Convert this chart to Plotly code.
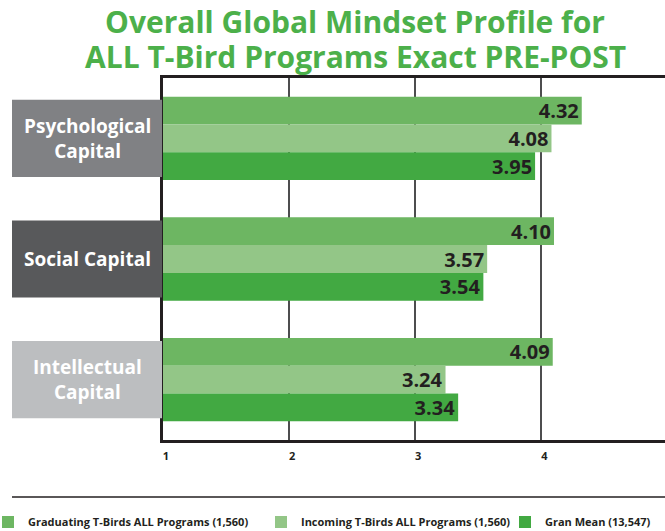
import plotly.graph_objects as go

categories = ["Psychological<br>Capital", "Social Capital", "Intellectual<br>Capital"]
series_names = ["Graduating T-Birds ALL Programs (1,560)",
                "Incoming T-Birds ALL Programs (1,560)",
                "Gran Mean (13,547)"]
graduating = [4.32, 4.10, 4.09]
incoming = [4.08, 3.57, 3.24]
gran_mean = [3.95, 3.54, 3.34]
tick_vals = [1, 2, 3, 4]
tick_text = ["1", "2", "3", "4"]
title_lines = ["Overall Global Mindset Profile for", "ALL T-Bird Programs Exact PRE-POST"]

series_colors = ["#6db662", "#93c687", "#42a942"]
box_colors = ["#808184", "#58595b", "#bcbec0"]

FONT = "Open Sans"
W, H = 665, 531
ml, mr, mt, mb = 163, 0, 78, 91
pw = W - ml - mr
ph = H - mt - mb


def px_x(x):
    return (x - ml) / pw


def px_y(y):
    return (H - mb - y) / ph


legend_ids = ["legend", "legend2", "legend3"]
legend_px = [-12, 261, 505]

fig = go.Figure()
for name, vals, col, lid in zip(series_names, [graduating, incoming, gran_mean], series_colors, legend_ids):
    fig.add_trace(go.Bar(
        y=categories, x=[v - 1 for v in vals], base=1, orientation="h",
        name=name, marker=dict(color=col, line=dict(width=0)),
        text=[f"{v:.2f}" for v in vals], textposition="inside",
        insidetextanchor="end", textangle=0, constraintext="none",
        textfont=dict(family=FONT, size=20, color="#231f20", weight="bold"),
        hoverinfo="skip", legend=lid, showlegend=True,
    ))

shapes = []
annotations = []
box_left = px_x(12)
box_right = px_x(162)
for i, (cat, bc) in enumerate(zip(categories, box_colors)):
    shapes.append(dict(type="rect", xref="paper", yref="y", x0=box_left, x1=box_right,
                       y0=i - 0.32, y1=i + 0.32, fillcolor=bc, line=dict(width=0), layer="above"))
    annotations.append(dict(xref="paper", yref="y", x=(box_left + box_right) / 2, y=i,
                            xanchor="center", yanchor="middle",
                            text=cat, showarrow=False,
                            font=dict(family=FONT, size=19, color="white", weight="bold")))

for line, ypx in zip(title_lines, [22, 57]):
    annotations.append(dict(xref="paper", yref="paper", x=px_x(355), y=px_y(ypx),
                            xanchor="center", yanchor="middle", text=line, showarrow=False,
                            font=dict(family=FONT, size=30, color="#4cb04a", weight="bold")))

shapes.append(dict(type="line", xref="paper", yref="paper", x0=box_left, x1=1.01,
                   y0=px_y(497), y1=px_y(497), line=dict(color="#231f20", width=1.5)))

legends = {}
for lid, lx in zip(legend_ids, legend_px):
    legends[lid] = dict(orientation="h", x=px_x(lx), xanchor="left", y=px_y(522), yanchor="middle",
                        itemwidth=30, bgcolor="rgba(0,0,0,0)",
                        font=dict(family=FONT, size=11, color="#231f20", weight="bold"),
                        itemclick=False, itemdoubleclick=False)

fig.update_layout(
    width=W, height=H, showlegend=True,
    margin=dict(l=ml, r=mr, t=mt, b=mb, autoexpand=False),
    paper_bgcolor="white", plot_bgcolor="white",
    barmode="group", bargap=0.31, bargroupgap=0,
    xaxis=dict(range=[1, 4.98], tickvals=tick_vals, ticktext=tick_text,
               showgrid=True, gridcolor="#4d4d4f", gridwidth=1.5,
               showline=True, linecolor="#231f20", linewidth=3, mirror=True,
               ticks="", ticklabelshift=3, ticklabelstandoff=4,
               tickfont=dict(family=FONT, size=11, color="#231f20", weight="bold"),
               zeroline=False, fixedrange=True),
    yaxis=dict(autorange="reversed", showticklabels=False, ticks="",
               showline=True, linecolor="#231f20", linewidth=3, mirror=False,
               showgrid=False, zeroline=False, fixedrange=True),
    shapes=shapes, annotations=annotations,
    **legends,
)

fig.write_html("out.html", config={"displayModeBar": False},
               post_script="document.body.style.margin='0';document.body.style.overflow='hidden';")
